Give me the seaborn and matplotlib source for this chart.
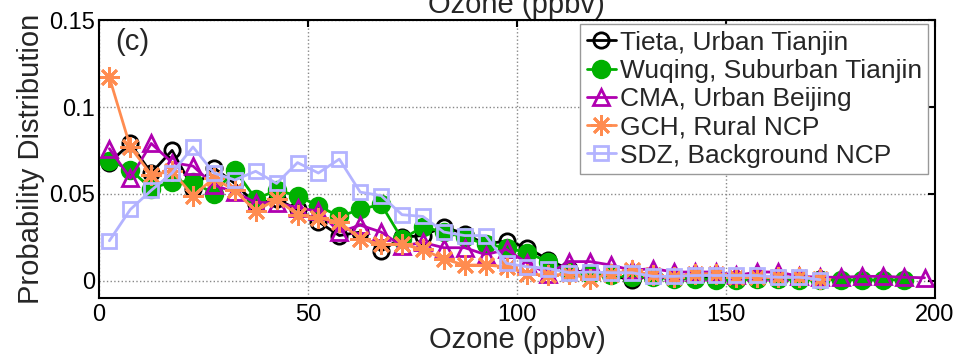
import numpy as np
import pandas as pd
import seaborn as sns
import matplotlib.pyplot as plt

sns.set_theme(style="white")
plt.rcParams['font.family'] = ['Liberation Sans', 'DejaVu Sans']

# ozone bin centres (ppbv)
bins = [2.5 + 5 * i for i in range(40)]

tieta = [0.068, 0.079, 0.062, 0.075, 0.053, 0.065, 0.056, 0.044, 0.047, 0.041,
         0.034, 0.026, 0.028, 0.017, 0.025, 0.026, 0.031, 0.027, 0.021, 0.023,
         0.019, 0.012, 0.0065, 0.004, 0.003, 0.0005, 0.003, 0.002, 0.002, 0.0015,
         0.001, 0.001, 0.001, 0.001, 0.001]
wuqing = [0.069, 0.064, 0.053, 0.057, 0.057, 0.050, 0.064, 0.047, 0.052, 0.049,
          0.043, 0.037, 0.041, 0.044, 0.024, 0.031, 0.028, 0.025, 0.021, 0.019,
          0.016, 0.011, 0.005, 0.004, 0.003, 0.002, 0.002, 0.001, 0.001, 0.0005,
          0.0005, 0.001, 0.001, 0.0005, 0.0005, 0.0005, 0.0005, 0.0005, 0.0005]
cma = [0.076, 0.059, 0.079, 0.068, 0.066, 0.055, 0.051, 0.045, 0.045, 0.042,
       0.040, 0.028, 0.032, 0.028, 0.020, 0.022, 0.019, 0.019, 0.015, 0.018,
       0.010, 0.004, 0.011, 0.011, 0.009, 0.006, 0.007, 0.005, 0.005, 0.005,
       0.003, 0.005, 0.005, 0.0025, 0.002, 0.002, 0.0025, 0.0025, 0.002, 0.0017]
gch = [0.117, 0.077, 0.061, 0.063, 0.049, 0.059, 0.052, 0.040, 0.047, 0.038,
       0.036, 0.034, 0.024, 0.021, 0.021, 0.018, 0.0125, 0.009, 0.009, 0.008,
       0.004, 0.003, 0.004, 0.001, 0.004, 0.006, 0.003, 0.002, 0.004, 0.004,
       0.002, 0.002, 0.002, 0.002, 0.001]
sdz = [0.023, 0.041, 0.052, 0.062, 0.077, 0.062, 0.058, 0.063, 0.056, 0.068,
       0.062, 0.070, 0.051, 0.049, 0.038, 0.037, 0.028, 0.026, 0.026, 0.010,
       0.008, 0.007, 0.0046, 0.005, 0.0046, 0.0046, 0.0025, 0.0025, 0.003, 0.003,
       0.003, 0.003, 0.002, 0.002, 0.0006]

labels = ["Tieta, Urban Tianjin", "Wuqing, Suburban Tianjin", "CMA, Urban Beijing",
          "GCH, Rural NCP", "SDZ, Background NCP"]
colors = ["black", "#00b000", "#b000b0", "#ff8c50", "#b3b3ff"]

series = [tieta, wuqing, cma, gch, sdz]
styles = [
    dict(marker="o", markersize=11, markerfacecolor="none"),
    dict(marker="o", markersize=12),
    dict(marker="^", markersize=12, markerfacecolor="none"),
    dict(marker=(8, 2, 0), markersize=15),
    dict(marker="s", markersize=10, markerfacecolor="none"),
]

fig = plt.figure(figsize=(9.57, 3.6), dpi=100)
ax = fig.add_axes([0.1034, 0.172, 0.8736, 0.772])

for vals, lab, col, st in zip(series, labels, colors, styles):
    df = pd.DataFrame({"ozone": bins[:len(vals)], "prob": vals})
    sns.lineplot(data=df, x="ozone", y="prob", ax=ax, color=col, lw=2,
                 markeredgecolor=col, markeredgewidth=2, label=lab, **st)

ax.set_xlim(0, 200)
ax.set_ylim(-0.01, 0.15)
ax.set_xticks([0, 50, 100, 150, 200])
ax.set_yticks([0, 0.05, 0.1, 0.15])
ax.set_yticklabels(["0", "0.05", "0.1", "0.15"])
ax.grid(True, color="#888888", linestyle=":", linewidth=1)
ax.tick_params(direction="in", top=True, right=True, length=5, width=1.5,
               labelsize=17, colors="black", pad=3)
ax.tick_params(axis="x", pad=4)
for sp in ax.spines.values():
    sp.set_color("black")
    sp.set_linewidth(1.5)

ax.set_xlabel("Ozone (ppbv)", fontsize=21, labelpad=0)
ax.set_ylabel("Probability Distribution", fontsize=21, labelpad=3)
ax.text(0.02, 0.92, "(c)", transform=ax.transAxes, fontsize=21, va="center")
fig.text(0.54, 0.964, "Ozone (ppbv)", fontsize=21, ha="center", va="baseline")

leg = ax.legend(loc="upper right", bbox_to_anchor=(0.992, 0.986), borderaxespad=0,
                fontsize=19, handlelength=1.1, handletextpad=0.15, labelspacing=0.16,
                borderpad=0.25, fancybox=False, framealpha=1)
leg.get_frame().set_edgecolor("#999999")
leg.get_frame().set_linewidth(1)

fig.savefig("out.png", dpi=100)
